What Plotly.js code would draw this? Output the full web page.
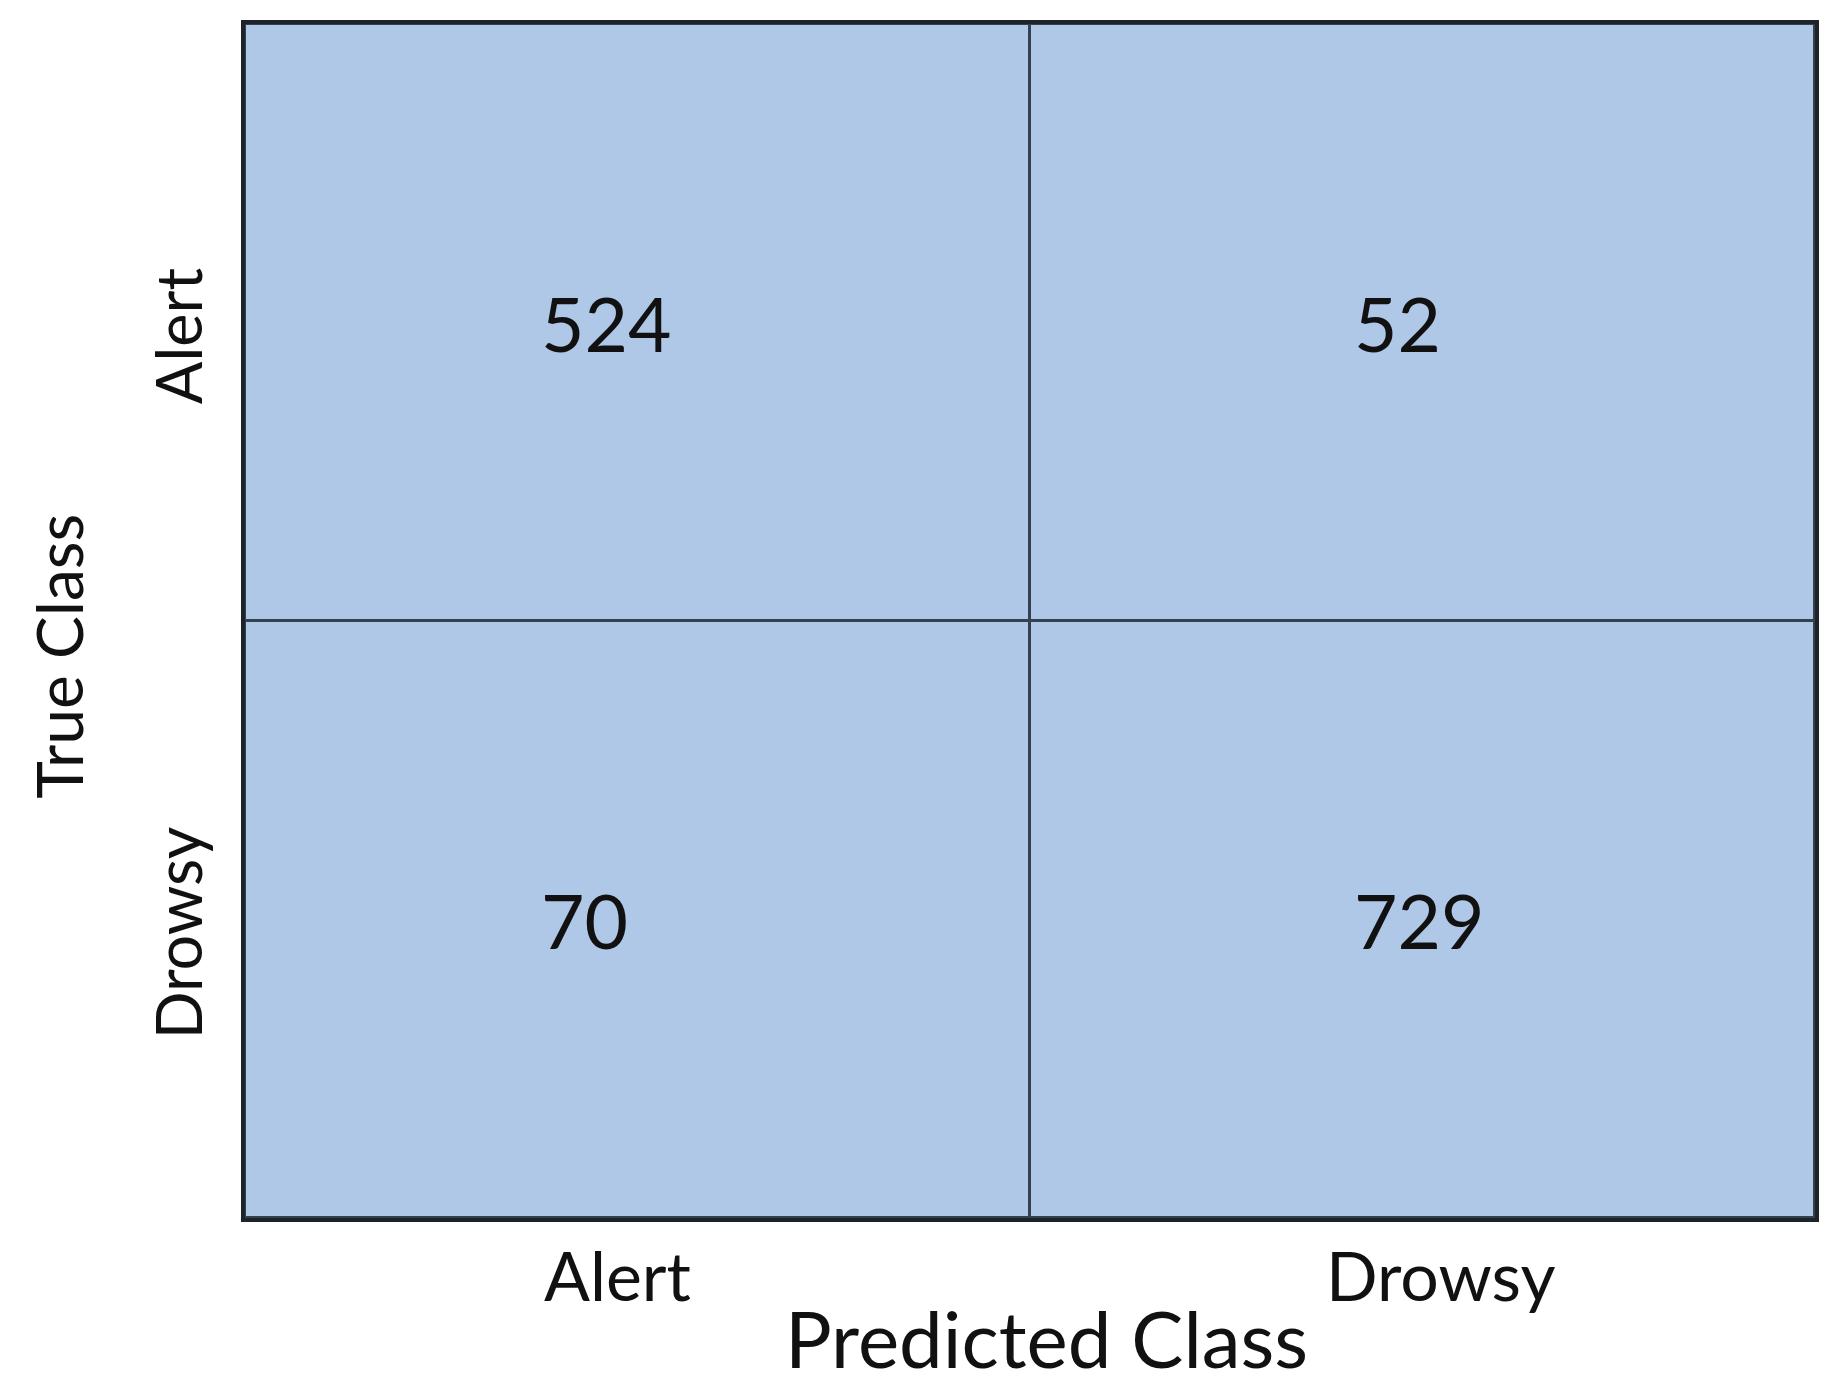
<!DOCTYPE html>
<html>
<head>
<meta charset="utf-8">
<script src="https://cdn.plot.ly/plotly-3.0.1.min.js"></script>
<style>
  html, body { margin: 0; padding: 0; background: #ffffff; }
  #chart { width: 1842px; height: 1394px; }
</style>
</head>
<body>
<div id="chart"></div>
<script>
// confusion matrix values
const predictedClasses = ['Alert', 'Drowsy'];
const trueClasses = ['Alert', 'Drowsy'];
const counts = [
    [524, 52],
    [70, 729]
];

const cellColor = '#afc8e8';
const font = 'Lato, "Open Sans", sans-serif';

// cell numbers sit left of centre in the picture
const colShift = [-99, -71];
// bottom labels are spread slightly outward
const labelShift = [-20, 18];

const annotations = [];
trueClasses.forEach(function (row, i) {
    predictedClasses.forEach(function (col, j) {
        annotations.push({
            x: col,
            y: row,
            xref: 'x',
            yref: 'y',
            text: String(counts[i][j]),
            showarrow: false,
            xanchor: 'left',
            xshift: colShift[j],
            font: { family: font, size: 75, color: '#111111' }
        });
    });
});

// category labels under the matrix
predictedClasses.forEach(function (col, j) {
    annotations.push({
        x: col,
        xref: 'x',
        yref: 'paper',
        y: 0,
        yanchor: 'top',
        yshift: -14,
        xshift: labelShift[j],
        text: col,
        showarrow: false,
        font: { family: font, size: 68, color: '#111111' }
    });
});

annotations.push({
    text: 'Predicted Class',
    xref: 'paper',
    yref: 'paper',
    x: 0.5,
    y: 0,
    xshift: 16,
    yshift: -71,
    xanchor: 'center',
    yanchor: 'top',
    showarrow: false,
    font: { family: font, size: 78, color: '#111111' }
});

// y title drawn as an annotation so it can sit a little below centre
annotations.push({
    text: 'True Class',
    xref: 'paper',
    yref: 'paper',
    x: 0,
    y: 0.47,
    xshift: -186,
    xanchor: 'center',
    yanchor: 'middle',
    textangle: -90,
    showarrow: false,
    font: { family: font, size: 64, color: '#111111' }
});

const trace = {
    type: 'heatmap',
    x: predictedClasses,
    y: trueClasses,
    z: counts,
    colorscale: [[0, cellColor], [1, cellColor]],
    showscale: false,
    xgap: 3,
    ygap: 3,
    hoverinfo: 'x+y+z'
};

const layout = {
    width: 1842,
    height: 1394,
    margin: { l: 245, r: 27, t: 24, b: 176 },
    paper_bgcolor: '#ffffff',
    plot_bgcolor: '#34414f',
    showlegend: false,
    font: { family: font, color: '#111111' },
    xaxis: {
        type: 'category',
        showgrid: false,
        zeroline: false,
        showline: true,
        mirror: true,
        linecolor: '#1e2329',
        linewidth: 4,
        ticks: '',
        showticklabels: false
    },
    yaxis: {
        type: 'category',
        autorange: 'reversed',
        showgrid: false,
        zeroline: false,
        showline: true,
        mirror: true,
        linecolor: '#1e2329',
        linewidth: 4,
        ticks: '',
        tickangle: -90,
        ticklabelstandoff: 14,
        ticklabelshift: -23,
        tickfont: { family: font, size: 63, color: '#111111' }
    },
    annotations: annotations
};

Plotly.newPlot('chart', [trace], layout, { displayModeBar: false, staticPlot: true });
</script>
</body>
</html>
